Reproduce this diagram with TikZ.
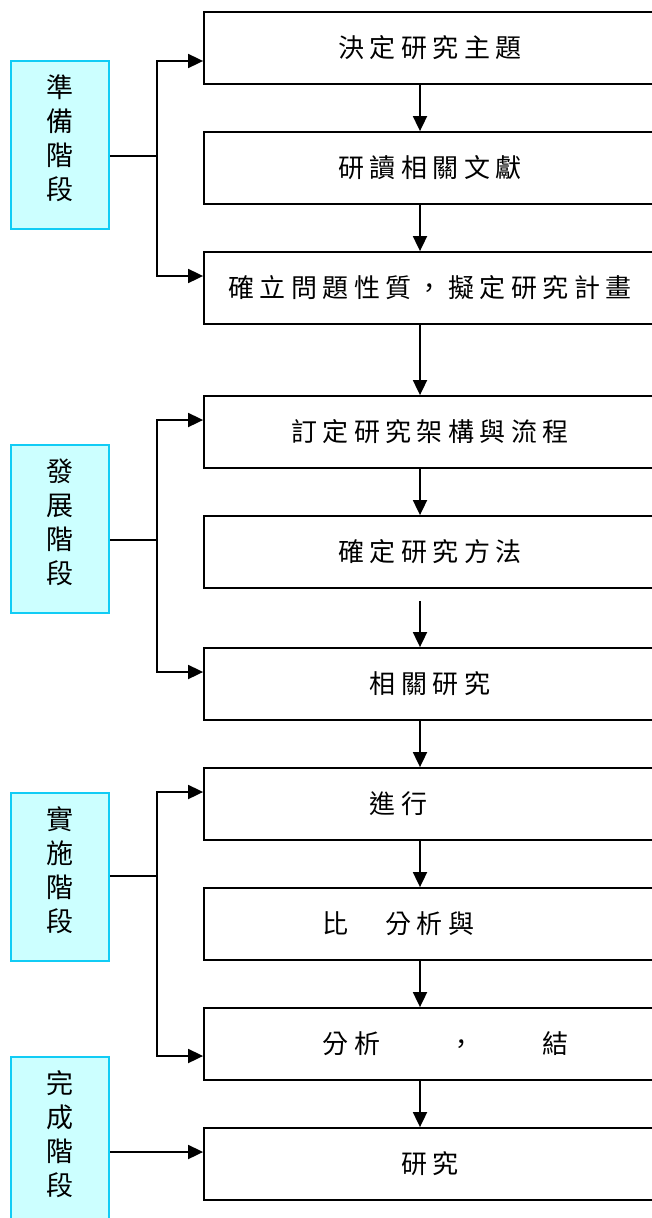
\documentclass[tikz,border=0pt]{standalone}
\usepackage{fontspec}
\newfontfamily\cjk[LetterSpace=21]{Noto Sans CJK TC}
\newfontfamily\cjkplain{Noto Sans CJK TC}
\usetikzlibrary{positioning,arrows.meta}
\definecolor{stagefill}{HTML}{CCFFFF}
\definecolor{stageline}{HTML}{11CCF5}

\begin{document}
\begin{tikzpicture}[x=1pt,y=1pt,node distance=120pt,on grid,
  stepbox/.style={draw,line width=1.8pt,minimum width=452pt,minimum height=72pt,inner sep=0pt,font=\cjk\fontsize{26}{30}\selectfont},
  stagebox/.style={draw=stageline,fill=stagefill,line width=2pt,minimum width=98pt,minimum height=168pt,inner sep=0pt,align=center,text depth=16pt,font=\cjkplain\fontsize{27}{34}\selectfont},
  flow/.style={line width=1.8pt,-{Triangle[length=15pt,width=14pt]}},
  feed/.style={line width=1.8pt}]
  \useasboundingbox (0,0) rectangle (651,-1218);
  \coordinate (spine) at (420,0);
  % research steps
  \node[stepbox] (decide) at (430,-48) {決定研究主題};
  \node[stepbox] (read) [below=of decide] {研讀相關文獻};
  \node[stepbox] (plan) [below=of read] {確立問題性質，擬定研究計畫};
  \node[stepbox] (frame) [below=144pt of plan] {訂定研究架構與流程};
  \node[stepbox] (method) [below=of frame] {確定研究方法};
  \node[stepbox] (related) [below=132pt of method] {相關研究};
  \node[stepbox] (run) [below=of related] {進行　　};
  \node[stepbox] (compare) [below=of run] {比　分析與　　};
  \node[stepbox] (result) [below=of compare] {　分析　　，　　結};
  \node[stepbox] (report) [below=of result] {研究};
  % stages
  \node[stagebox] (prep) at (60,-145) {準\\備\\階\\段};
  \node[stagebox] (grow) at (60,-529) {發\\展\\階\\段};
  \node[stagebox] (act) at (60,-877) {實\\施\\階\\段};
  \node[stagebox] (done) at (60,-1141) {完\\成\\階\\段};
  % main flow
  \draw[flow] (decide.south -| spine) -- (read.north -| spine);
  \draw[flow] (read.south -| spine) -- (plan.north -| spine);
  \draw[flow] (plan.south -| spine) -- (frame.north -| spine);
  \draw[flow] (frame.south -| spine) -- (method.north -| spine);
  \draw[flow] ([yshift=-12pt]method.south -| spine) -- (related.north -| spine);
  \draw[flow] (related.south -| spine) -- (run.north -| spine);
  \draw[flow] (run.south -| spine) -- (compare.north -| spine);
  \draw[flow] (compare.south -| spine) -- (result.north -| spine);
  \draw[flow] (result.south -| spine) -- (report.north -| spine);
  % stage links
  \draw[feed] ([yshift=-96pt]prep.north east) -- ++(47,0) coordinate (j1);
  \draw[flow] (j1) |- ([yshift=-13pt]decide.west);
  \draw[flow] (j1) |- ([yshift=12pt]plan.west);
  \draw[feed] ([yshift=-96pt]grow.north east) -- ++(47,0) coordinate (j2);
  \draw[flow] (j2) |- ([yshift=12pt]frame.west);
  \draw[flow] (j2) |- ([yshift=12pt]related.west);
  \draw[feed] ([yshift=-84pt]act.north east) -- ++(47,0) coordinate (j3);
  \draw[flow] (j3) |- ([yshift=12pt]run.west);
  \draw[flow] (j3) |- ([yshift=-12pt]result.west);
  \draw[flow] ([yshift=-96pt]done.north east) -- ([yshift=12pt]report.west);
\end{tikzpicture}
\end{document}
